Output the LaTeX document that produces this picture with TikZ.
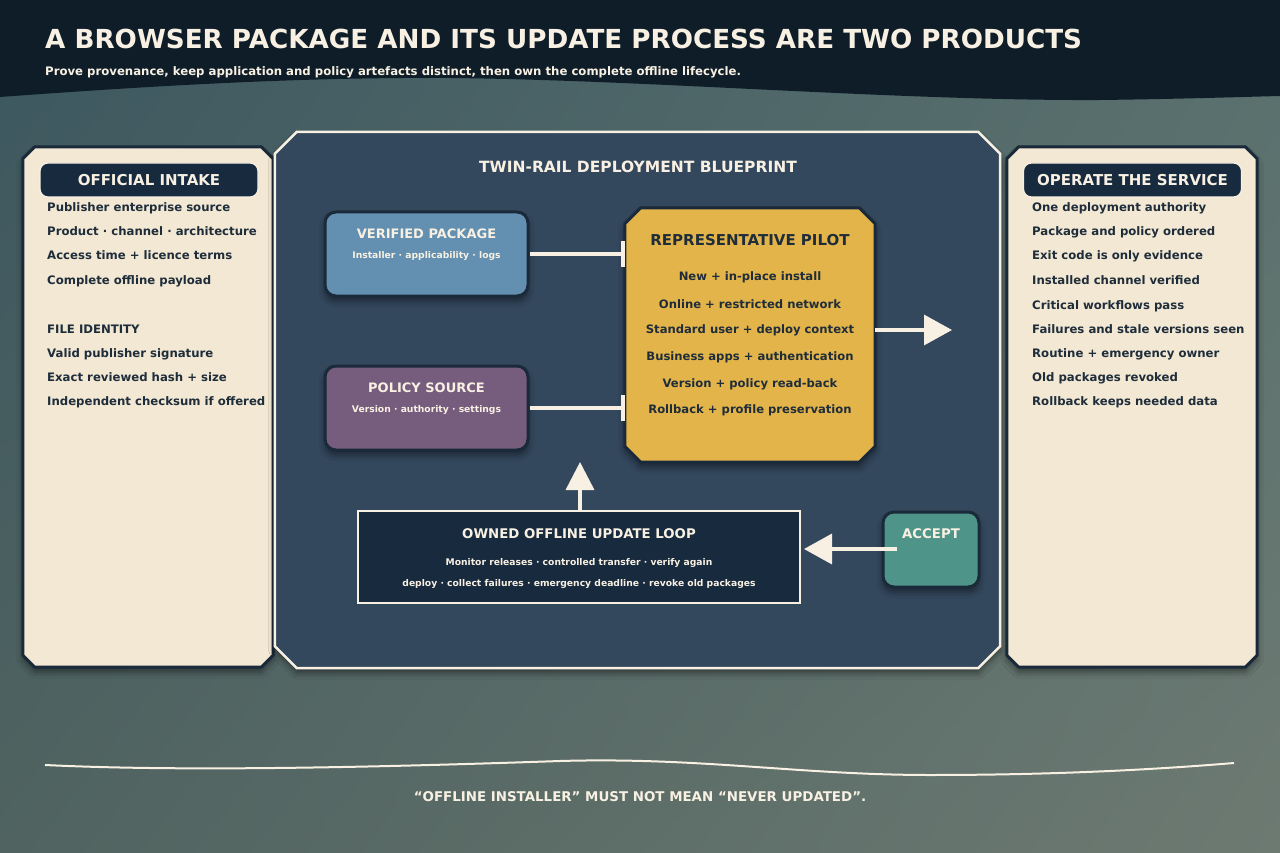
\documentclass[tikz,border=0pt]{standalone}
\usepackage{fontspec}
\setmainfont{DejaVu Sans}
\usetikzlibrary{arrows.meta,calc,shadows.blur,shadings}
\definecolor{bgA}{HTML}{3C5760}
\definecolor{bgB}{HTML}{58706E}
\definecolor{bgC}{HTML}{506360}
\definecolor{bgD}{HTML}{6D7A72}
\definecolor{band}{HTML}{0F1D29}
\definecolor{cream}{HTML}{F2E8D4}
\definecolor{creamline}{HTML}{F8F1E3}
\definecolor{edge}{HTML}{1A2A3A}
\definecolor{slate}{HTML}{33475D}
\definecolor{vpblue}{HTML}{6390B0}
\definecolor{polpurple}{HTML}{765C7D}
\definecolor{pilotgold}{HTML}{E3B44A}
\definecolor{navy}{HTML}{172A3E}
\definecolor{teal}{HTML}{4F9488}
\definecolor{ink}{HTML}{1F2D3A}
\newcommand\myfs[1]{\fontsize{#1}{#1}\selectfont\bfseries}
\begin{document}
\begin{tikzpicture}[x=1pt,y=-1pt,
  frame/.style n args={2}{minimum width=#1, minimum height=#2, inner sep=0, draw=none},
  chamf/.style n args={2}{insert path={($(#1.north west)+(#2,0)$) -- ($(#1.north east)+(-#2,0)$) -- ($(#1.north east)+(0,#2)$) -- ($(#1.south east)+(0,-#2)$) -- ($(#1.south east)+(-#2,0)$) -- ($(#1.south west)+(#2,0)$) -- ($(#1.south west)+(0,-#2)$) -- ($(#1.north west)+(0,#2)$) -- cycle}},
  sh/.style={blur shadow={shadow xshift=0pt, shadow yshift=-5pt, shadow blur radius=6pt, shadow opacity=45}},
  txt/.style={inner sep=0, font=\myfs{#1}},
  item/.style={anchor=base west, inner sep=0, font=\myfs{11.7}, text=ink},
  pill/.style={rounded corners=8, fill=navy, draw=creamline, line width=1.2, minimum width=218, minimum height=34, inner sep=0, text=creamline, font=\myfs{15}},
  rbox/.style={rounded corners=11, draw=edge, line width=3, inner sep=0, sh},
  rail/.style={draw=creamline, line width=3.5, -{Bar[width=26pt,line width=4pt]}},
  big/.style={draw=creamline, line width=3.5, -{Triangle[length=28pt,width=30pt]}},
]
\useasboundingbox (0,0) rectangle (1280,853);
\shade[upper left=bgA, upper right=bgB, lower left=bgC, lower right=bgD] (0,0) rectangle (1280,853);
% top band
\fill[band] (0,0) -- (0,97) .. controls (150,86) and (300,77) .. (450,78) .. controls (650,80) and (900,101) .. (1100,100) .. controls (1180,99) and (1240,97) .. (1280,96) -- (1280,0) -- cycle;
\node[txt=26.2, text=creamline, anchor=base west] (title) at (45,48.5) {A BROWSER PACKAGE AND ITS UPDATE PROCESS ARE TWO PRODUCTS};
\node[txt=11.7, text=creamline, anchor=base west] (subtitle) at (45,76) {Prove provenance, keep application and policy artefacts distinct, then own the complete offline lifecycle.};

% panels
\node[frame={250}{520}] (intake) at (148,407) {};
\node[frame={250}{520}] (operate) at (1132,407) {};
\node[frame={725}{536}] (blueprint) at (637.5,400) {};
\path[fill=cream, draw=edge, line width=3, sh, chamf={intake}{12}];
\path[fill=cream, draw=edge, line width=3, sh, chamf={operate}{12}];
\path[fill=slate, draw=creamline, line width=2.5, sh, chamf={blueprint}{22}];

% left panel
\node[pill] (intakehead) at (149,180) {OFFICIAL INTAKE};
\node[item] (l1) at (47,212) {Publisher enterprise source};
\node[item] (l2) at (47,236) {Product · channel · architecture};
\node[item] (l3) at (47,260) {Access time + licence terms};
\node[item] (l4) at (47,284) {Complete offline payload};
\node[item] (l5) at (47,333) {FILE IDENTITY};
\node[item] (l6) at (47,357) {Valid publisher signature};
\node[item] (l7) at (47,381) {Exact reviewed hash + size};
\node[item] (l8) at (47,405) {Independent checksum if offered};

% right panel
\node[pill] (operatehead) at (1132.5,180) {OPERATE THE SERVICE};
\node[item] (r1) at (1032,212) {One deployment authority};
\node[item] (r2) at (1032,236) {Package and policy ordered};
\node[item] (r3) at (1032,260) {Exit code is only evidence};
\node[item] (r4) at (1032,284) {Installed channel verified};
\node[item] (r5) at (1032,309) {Critical workflows pass};
\node[item] (r6) at (1032,333) {Failures and stale versions seen};
\node[item] (r7) at (1032,357) {Routine + emergency owner};
\node[item] (r8) at (1032,381) {Old packages revoked};
\node[item] (r9) at (1032,405) {Rollback keeps needed data};

% center
\node[txt=15.5, text=creamline] (bptitle) at (638,167) {TWIN-RAIL DEPLOYMENT BLUEPRINT};

\node[rbox, fill=vpblue, minimum width=203, minimum height=84] (vp) at (426.5,254) {};
\node[txt=13, text=creamline] (vpt) at (426.5,233.5) {VERIFIED PACKAGE};
\node[txt=9.2, text=creamline] (vps) at (426.5,255.5) {Installer · applicability · logs};

\node[rbox, fill=polpurple, minimum width=203, minimum height=84] (ps) at (426.5,408) {};
\node[txt=13, text=creamline] (pst) at (426.5,387.5) {POLICY SOURCE};
\node[txt=9.2, text=creamline] (pss) at (426.5,409.5) {Version · authority · settings};

\node[frame={250}{254}] (pilot) at (750,335) {};
\path[fill=pilotgold, draw=edge, line width=3, sh, chamf={pilot}{16}];
\node[txt=15, text=ink] (pt) at (750,240.5) {REPRESENTATIVE PILOT};
\node[txt=11.6, text=ink] (p1) at (750,277.5) {New + in-place install};
\node[txt=11.6, text=ink] (p2) at (750,304.5) {Online + restricted network};
\node[txt=11.6, text=ink] (p3) at (750,330.5) {Standard user + deploy context};
\node[txt=11.6, text=ink] (p4) at (750,357.5) {Business apps + authentication};
\node[txt=11.6, text=ink] (p5) at (750,384.5) {Version + policy read-back};
\node[txt=11.6, text=ink] (p6) at (750,410.5) {Rollback + profile preservation};

\node[fill=navy, draw=creamline, line width=2, minimum width=442, minimum height=92, inner sep=0] (loop) at (579,557) {};
\node[txt=13.3, text=creamline] (lt) at (579,533.5) {OWNED OFFLINE UPDATE LOOP};
\node[txt=9.2, text=creamline] (ls1) at (579,562.5) {Monitor releases · controlled transfer · verify again};
\node[txt=9.2, text=creamline] (ls2) at (579,583.5) {deploy · collect failures · emergency deadline · revoke old packages};

\node[rbox, fill=teal, minimum width=96, minimum height=75] (accept) at (931,549.5) {};
\node[txt=13.3, text=creamline] (at) at (931,533.5) {ACCEPT};

% connectors
\draw[rail] (vp.east) -- (pilot.west |- vp.east);
\draw[rail] (ps.east) -- (pilot.west |- ps.east);
\coordinate (out) at (952,330);
\draw[big] (pilot.east |- out) -- (out);
\coordinate (up) at (580,462);
\draw[big, -{Triangle[length=28pt,width=28pt]}] (loop.north -| up) -- (up);
\coordinate (accstart) at (897,549);
\draw[big] (accstart) -- ([xshift=3pt]loop.east |- accstart);

% footer
\draw[creamline, line width=2] (45,765) .. controls (150,770) and (300,770) .. (560,761) .. controls (700,757) and (800,775) .. (930,775) .. controls (1050,775) and (1150,770) .. (1234,763);
\node[txt=13.4, text=creamline] (quote) at (640,797) {“OFFLINE INSTALLER” MUST NOT MEAN “NEVER UPDATED”.};
\end{tikzpicture}
\end{document}
